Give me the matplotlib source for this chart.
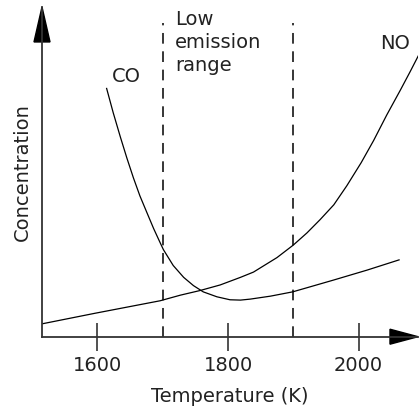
import matplotlib.pyplot as plt
from matplotlib.patches import Polygon

# readings (temperature in K, concentration in arbitrary units)
co_temp = [1614, 1624, 1635, 1645, 1655, 1665, 1676, 1686, 1696, 1701, 1716, 1732, 1747,
           1762, 1783, 1803, 1819, 1834, 1865, 1899, 1962, 2013, 2062]
co_conc = [75.3, 68.0, 60.6, 54.2, 48.2, 42.7, 37.5, 32.8, 28.5, 26.4, 21.6, 18.0, 15.5,
           13.6, 12.1, 11.2, 11.1, 11.4, 12.3, 13.6, 17.2, 20.2, 23.3]

no_temp = [1515, 1596, 1696, 1727, 1757, 1788, 1819, 1839, 1875, 1900, 1921, 1941, 1962,
           1982, 2004, 2023, 2043, 2064, 2079, 2092]
no_conc = [3.9, 7.1, 10.9, 12.6, 14.0, 15.7, 18.0, 19.6, 24.0, 27.8, 31.5, 35.5, 40.0,
           45.8, 52.8, 59.5, 67.2, 74.8, 80.4, 85.4]

range_edges = [1700, 1900]
xticks = [1600, 1800, 2000]

W, H = 419, 412
fig = plt.figure(figsize=(W / 100, H / 100), dpi=100)
ax = fig.add_axes([42 / W, (H - 336.7) / H, 376 / W, 329.7 / H])

ink = '#333333'
txt = '#222222'

ax.plot(co_temp, co_conc, color='black', lw=0.9)
ax.plot(no_temp, no_conc, color='black', lw=0.9)

for t in range_edges:
    ax.plot([t, t], [0, 95], color='black', lw=1.1, ls=(0, (7, 5)))

ax.set_xlim(1515, 2091)
ax.set_ylim(0, 100)

for s in ['top', 'right']:
    ax.spines[s].set_visible(False)
for s in ['left', 'bottom']:
    ax.spines[s].set_color(ink)
    ax.spines[s].set_linewidth(1.3)

ax.set_xticks(xticks)
ax.set_xticklabels([str(t) for t in xticks], fontsize=14, color=txt)
ax.tick_params(axis='x', direction='inout', length=20, width=1.2, color=ink, pad=4)
ax.set_yticks([])

# arrow heads on the axes
ax.add_patch(Polygon([[0, 1], [-0.0213, 0.894], [0.0213, 0.894]], closed=True,
                     transform=ax.transAxes, clip_on=False, color='black'))
ax.add_patch(Polygon([[1, 0], [0.9255, 0.0227], [0.9255, -0.0227]], closed=True,
                     transform=ax.transAxes, clip_on=False, color='black'))

ax.text(1645, 79, 'CO', fontsize=14, color=txt, ha='center', va='center')
ax.text(2056, 89, 'NO', fontsize=14, color=txt, ha='center', va='center')
ax.text(1719, 99, 'Low\nemission\nrange', fontsize=14, color=txt, ha='left', va='top',
        linespacing=1.25)

ax.text(0.5, -0.18, 'Temperature (K)', fontsize=14, color=txt, ha='center', va='center',
        transform=ax.transAxes)
ax.text(-0.053, 0.5, 'Concentration', fontsize=14, color=txt, ha='center', va='center',
        rotation=90, transform=ax.transAxes)

fig.savefig('out.png', dpi=100)
